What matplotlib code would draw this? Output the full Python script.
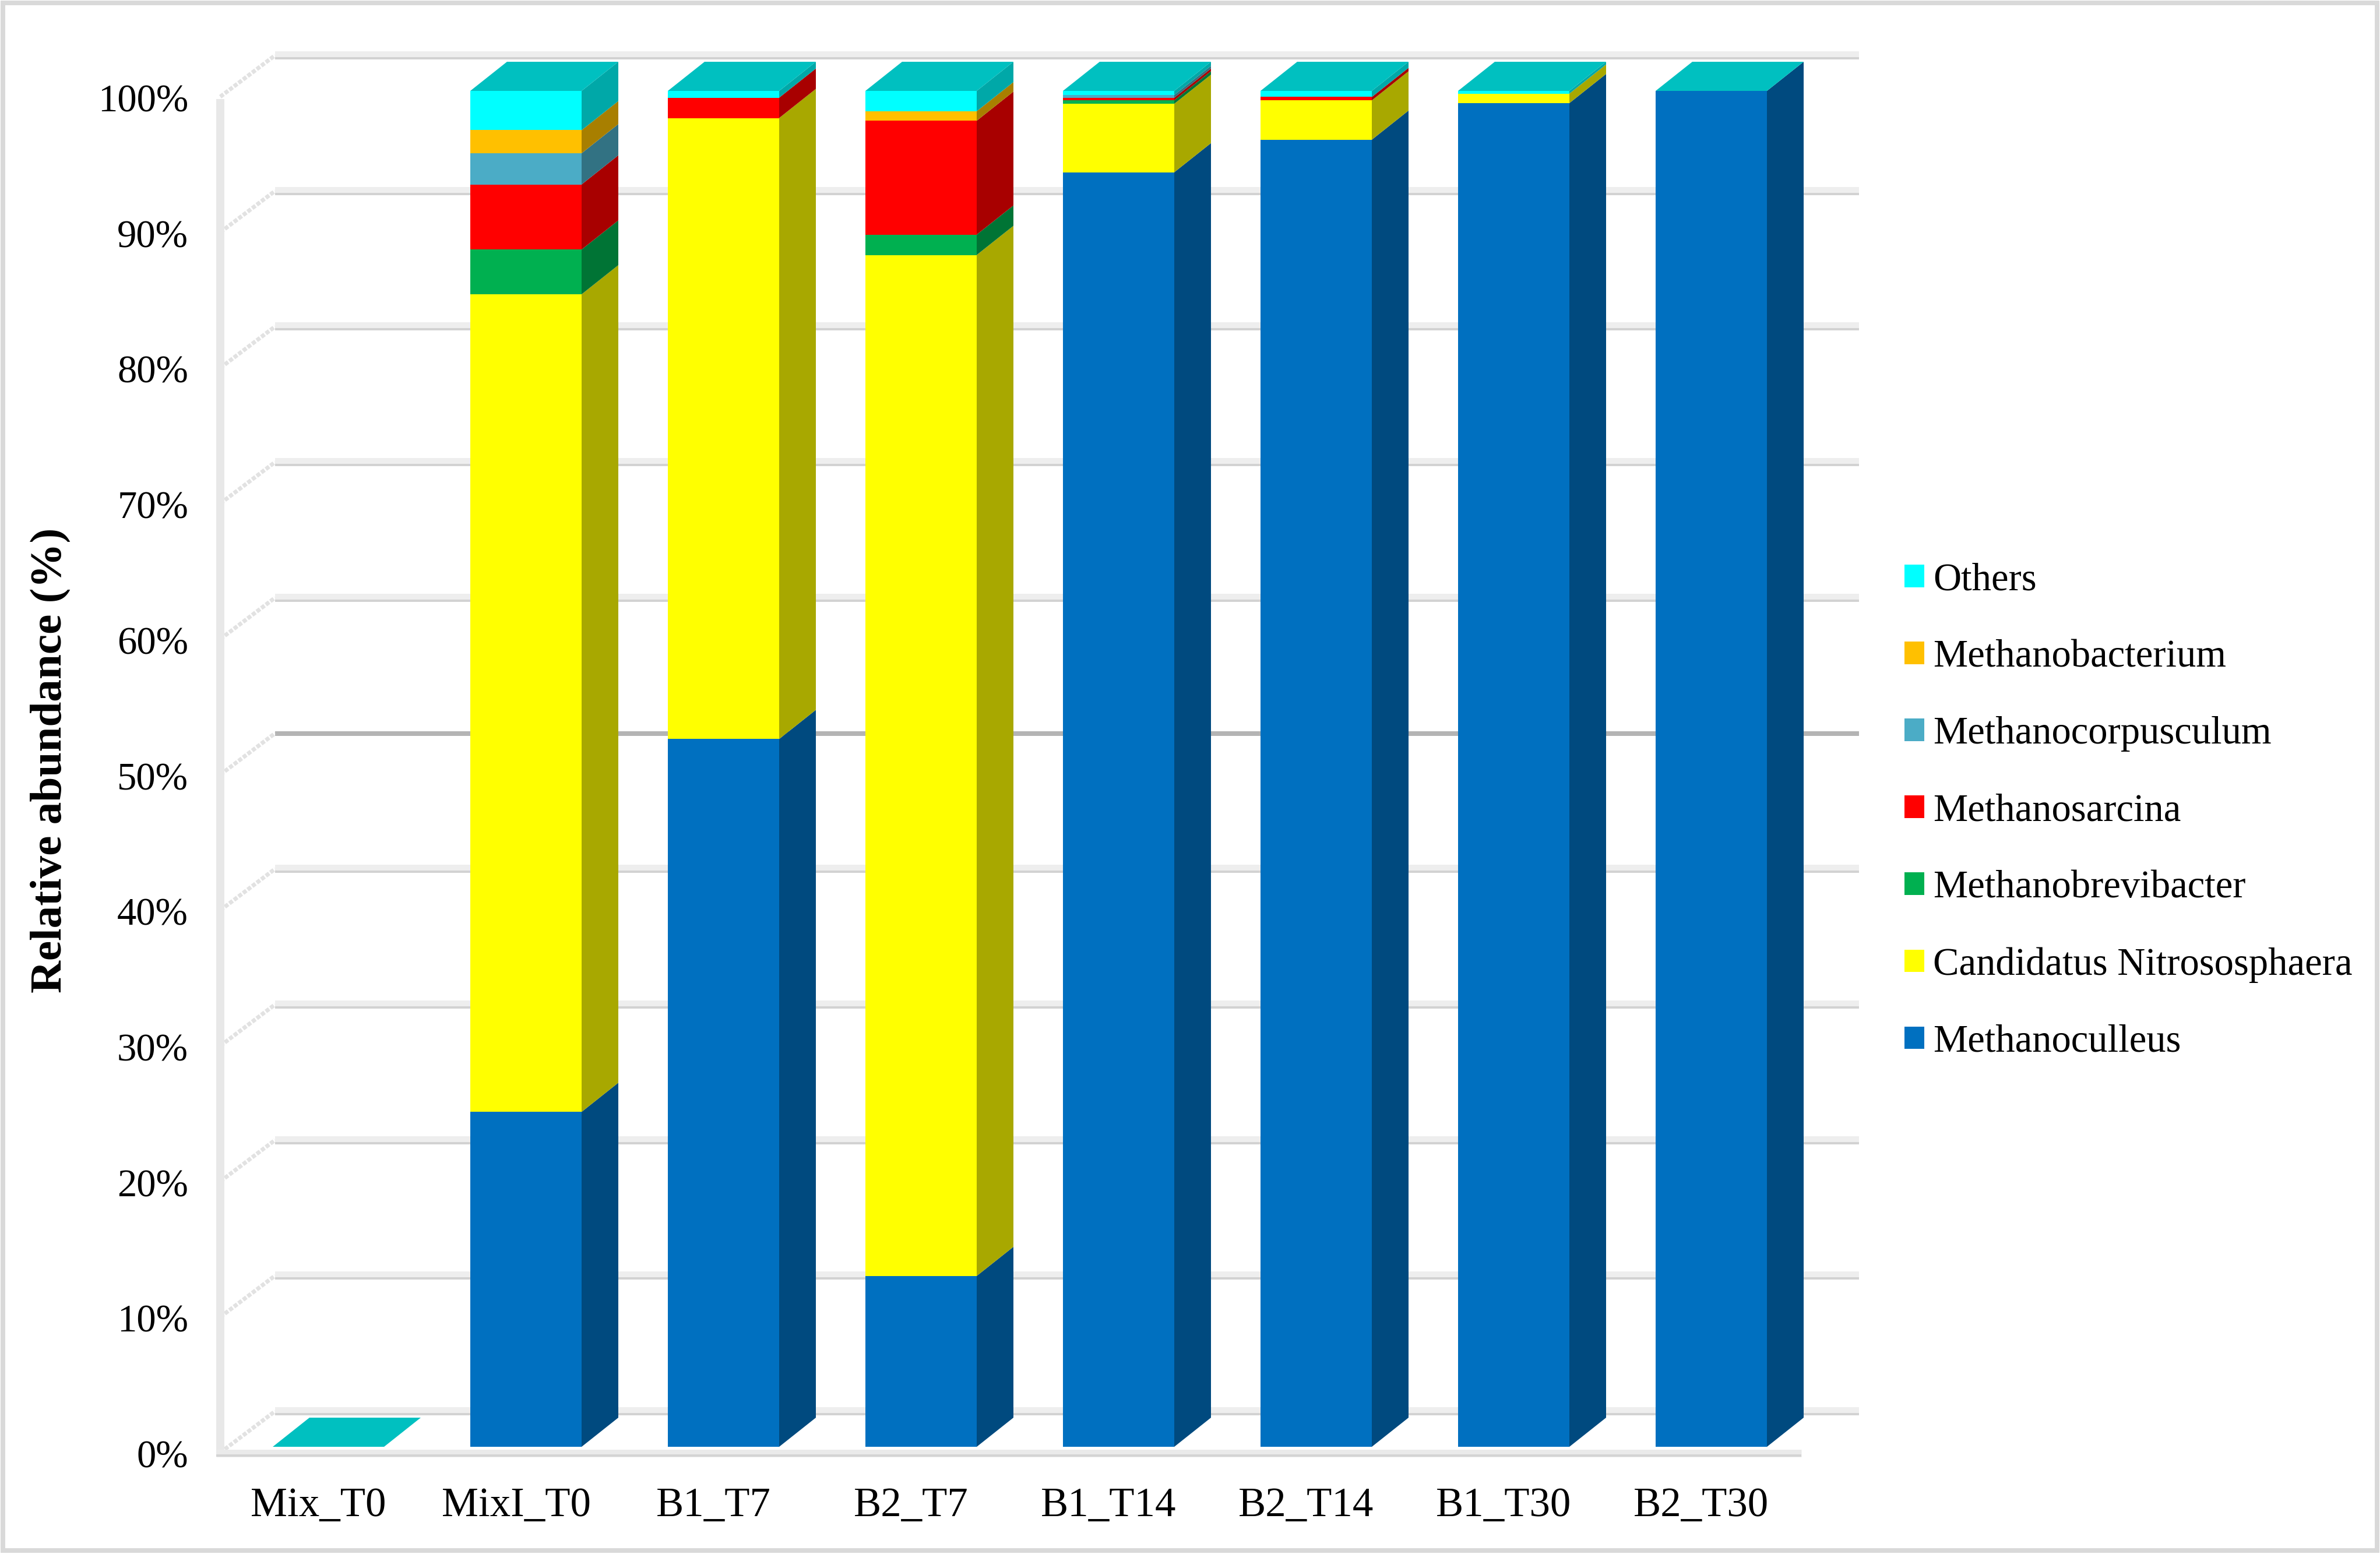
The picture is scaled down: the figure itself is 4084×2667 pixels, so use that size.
# Stacked 3D-look bars of relative abundance

# Importing the libraries
import numpy as np
import matplotlib
matplotlib.use('Agg')
import matplotlib.pyplot as plt
from matplotlib.colors import to_rgb
from matplotlib.patches import Rectangle
from matplotlib.transforms import ScaledTranslation

# The data
samples = ['Mix_T0', 'MixI_T0', 'B1_T7', 'B2_T7', 'B1_T14', 'B2_T14', 'B1_T30', 'B2_T30']
methanoculleus = [0, 24.7, 52.2, 12.6, 94.0, 96.4, 99.1, 100]
nitrososphaera = [0, 60.3, 45.8, 75.3, 5.05, 2.9, 0.7, 0]
methanobrevibacter = [0, 3.3, 0, 1.5, 0.25, 0, 0, 0]
methanosarcina = [0, 4.8, 1.5, 8.4, 0.2, 0.25, 0, 0]
methanocorpusculum = [0, 2.3, 0, 0, 0.2, 0, 0, 0]
methanobacterium = [0, 1.7, 0, 0.7, 0, 0, 0, 0]
others = [0, 2.9, 0.5, 1.5, 0.3, 0.45, 0.2, 0]
percent_ticks = [0, 10, 20, 30, 40, 50, 60, 70, 80, 90, 100]

series_names = ['Methanoculleus', 'Candidatus Nitrososphaera', 'Methanobrevibacter', 'Methanosarcina',
                'Methanocorpusculum', 'Methanobacterium', 'Others']
series_values = [methanoculleus, nitrososphaera, methanobrevibacter, methanosarcina,
                 methanocorpusculum, methanobacterium, others]
series_colors = ['#0070C0', '#FFFF00', '#00B050', '#FF0000', '#4BACC6', '#FFC000', '#00FFFF']

# Pixel layout of the figure
W, H = 4084, 2667
DPI = 200
ax_left, ax_right, ax_top, ax_bottom = 370, 3230, 80, 2510
px_per_cat = 339.0
px_per_pct = 23.27
x_zero = 563.5   # pixel of the first bar centre
y_zero = 2483.0  # pixel of 0 %

bar_w = 191 / px_per_cat
depth_x = 63 / px_per_cat
depth_y = 50 / px_per_pct

plt.rcParams['font.family'] = ['Liberation Serif', 'DejaVu Serif']

fig = plt.figure(figsize=(W / DPI, H / DPI), dpi=DPI, facecolor='white')
ax = fig.add_axes([ax_left / W, 1 - ax_bottom / H, (ax_right - ax_left) / W, (ax_bottom - ax_top) / H])
ax.set_xlim((ax_left - x_zero) / px_per_cat, (ax_right - x_zero) / px_per_cat)
ax.set_ylim((y_zero - ax_bottom) / px_per_pct, (y_zero - ax_top) / px_per_pct)
ax.patch.set_visible(False)
for s in ax.spines.values():
    s.set_visible(False)


def shade(color, k):
    return tuple(c * k for c in to_rgb(color))


# Back wall, side wall and floor
px_lw = 72 / DPI
wall_x0 = (378 - x_zero) / px_per_cat
back_x0 = (472 - x_zero) / px_per_cat
back_x1 = (3190 - x_zero) / px_per_cat
front_x1 = (3091 - x_zero) / px_per_cat
back_dy = 61 / px_per_pct
wall_dy = -10 / px_per_pct
for v in percent_ticks:
    if v == 50:
        # this one comes out darker and thinner in the original
        ax.plot([back_x0, back_x1], [v + back_dy, v + back_dy], color='#b4b4b4', lw=8 * px_lw,
                solid_capstyle='butt', zorder=1)
    else:
        ax.plot([back_x0, back_x1], [v + back_dy, v + back_dy], color='#eeeeee', lw=14 * px_lw,
                solid_capstyle='butt', zorder=1)
        ax.plot([back_x0, back_x1], [v + back_dy - 5 / px_per_pct] * 2, color='#d2d2d2', lw=4 * px_lw,
                solid_capstyle='butt', zorder=1.1)
    ax.plot([wall_x0, back_x0], [v + wall_dy, v + back_dy], color='#e2e2e2', lw=7 * px_lw,
            ls=(0, (1.0, 0.4)), zorder=1)
ax.plot([wall_x0, wall_x0], [-17 / px_per_pct, 100 - 14 / px_per_pct], color='#e8e8e8', lw=14 * px_lw,
        solid_capstyle='butt', zorder=1.2)
ax.plot([(371 - x_zero) / px_per_cat, front_x1], [-11 / px_per_pct] * 2, color='#eaeaea', lw=13 * px_lw,
        solid_capstyle='butt', zorder=1.2)
ax.plot([(371 - x_zero) / px_per_cat, front_x1], [-15 / px_per_pct] * 2, color='#d4d4d4', lw=4 * px_lw,
        solid_capstyle='butt', zorder=1.3)

# Stacked bars, one side face per segment and a top face per bar
x = np.arange(len(samples))
bottoms = np.zeros(len(samples))
handles = []
for name, values, color in zip(series_names, series_values, series_colors):
    values = np.array(values, dtype=float)
    bars = ax.bar(x, values, bar_w, bottom=bottoms, color=color, linewidth=0, label=name, zorder=3)
    handles.append(bars)
    for i in x:
        if values[i] > 0:
            b, t = bottoms[i], bottoms[i] + values[i]
            x0 = i + bar_w / 2
            ax.fill([x0, x0 + depth_x, x0 + depth_x, x0],
                    [b, b + depth_y, t + depth_y, t],
                    color=shade(color, 0.66), linewidth=0, zorder=3)
    bottoms = bottoms + values

for i in x:
    x0 = i - bar_w / 2
    x1 = i + bar_w / 2
    top = bottoms[i]
    ax.fill([x0, x1, x1 + depth_x, x0 + depth_x],
            [top, top, top + depth_y, top + depth_y],
            color='#00C0C0', linewidth=0, zorder=3)

# Axes text
ax.set_xticks(x)
ax.set_xticklabels(samples, fontsize=25.5)
ax.set_yticks(percent_ticks)
ax.set_yticklabels([str(v) + '%' for v in percent_ticks], fontsize=24)
ax.tick_params(axis='x', length=0, pad=42 * px_lw)
ax.tick_params(axis='y', length=0, pad=47 * px_lw)
x_shift = ScaledTranslation(-17 / DPI, 0, fig.dpi_scale_trans)
for label in ax.get_xticklabels():
    label.set_transform(label.get_transform() + x_shift)
y_shift = ScaledTranslation(0, -12 / DPI, fig.dpi_scale_trans)
for label in ax.get_yticklabels():
    label.set_transform(label.get_transform() + y_shift)

ax.set_ylabel('Relative abundance (%)', fontsize=27.8, fontweight='bold')
ax.yaxis.set_label_coords((121 - ax_left) / (ax_right - ax_left), (ax_bottom - 1305) / (ax_bottom - ax_top))

# Legend, top series first
leg = fig.legend(handles[::-1], series_names[::-1], loc='center left',
                 bbox_to_anchor=(3268 / W, 1 - 1392 / H), fontsize=24, frameon=False,
                 handlelength=0.51, handleheight=0.51, handletextpad=0.23,
                 labelspacing=1.065, borderpad=0, borderaxespad=0)

# Outer frame
fig.patches.append(Rectangle((5 / W, 6 / H), (W - 10) / W, (H - 11) / H, transform=fig.transFigure,
                             fill=False, edgecolor='#d9d9d9', linewidth=8 * px_lw))

fig.savefig('out.png', dpi=DPI)
